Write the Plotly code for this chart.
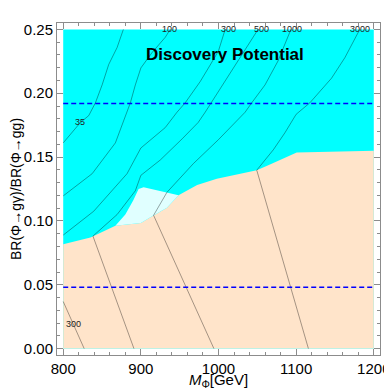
import plotly.graph_objects as go

# ---------------- data ----------------
mass_min, mass_max = 800, 1200
ratio_min, ratio_max = 0.0, 0.25

# upper boundary of the peach (excluded) region
peach_edge_m = [800, 835.1, 867.2, 900, 914.4, 933.6, 948.5, 972.5, 997.9, 1022.7,
                1049.3, 1066.3, 1083.4, 1100.7, 1200]
peach_edge_r = [0.0817, 0.0871, 0.0962, 0.0983, 0.1036, 0.1103, 0.1202, 0.1282, 0.1330, 0.1362,
                0.1397, 0.1442, 0.1490, 0.1536, 0.1550]

# light-cyan patch (upper edge, right to left)
patch_top_m = [948.5, 933.6, 918.6, 903.6, 897.1, 890.3, 880.0, 867.2]
patch_top_r = [0.1202, 0.1224, 0.1242, 0.1264, 0.1250, 0.1162, 0.1050, 0.0962]

# contour lines (luminosity levels)
c35_m = [800, 822.2, 832.9, 841.5, 850.1, 858.6, 869.4, 877.5]
c35_r = [0.1611, 0.1771, 0.1825, 0.1925, 0.2065, 0.2225, 0.2358, 0.25]

c100_m = [800, 837.3, 867.2, 877.5, 884.3, 886.5, 892.9, 900, 914.4, 931.4, 937.9]
c100_r = [0.1196, 0.1370, 0.1611, 0.1771, 0.1877, 0.1925, 0.2065, 0.2198, 0.2318, 0.2438, 0.25]

c300_m = [800, 839.3, 882.2, 900, 931.4, 946.5, 957.1, 976.4, 989.2, 1000, 1008.6,
          None, 800, 827.0]
c300_r = [0.0889, 0.1076, 0.1370, 0.1571, 0.1731, 0.1851, 0.1925, 0.2091, 0.2220, 0.2332, 0.25,
          None, 0.0369, 0.0]

c500_m = [891.1, 838.3, 869.4, 892.9, 900, 925.0, 953.2, 973.8, 982.8, 990.5, 1000, 1025.2, 1051.0]
c500_r = [0.0, 0.0881, 0.1050, 0.1236, 0.1357, 0.1477, 0.1643, 0.1771, 0.1851, 0.1925, 0.2011, 0.2252, 0.25]

c1000_m = [994.1, 916.4, 933.6, 967.8, 1000, 1034.2, 1042.8, 1059.9, 1076.6, 1093.3]
c1000_r = [0.0, 0.1044, 0.1224, 0.1450, 0.1637, 0.1851, 0.1925, 0.2065, 0.2252, 0.25]

c3000_m = [1115.8, 1049.3, 1059.9, 1070.6, 1085.6, 1100, 1117.7, 1145.6, 1162.7, 1179.8, 1182.0]
c3000_r = [0.0, 0.1397, 0.1477, 0.1557, 0.1691, 0.1835, 0.1925, 0.2118, 0.2278, 0.2466, 0.25]

# contour labels
label_text = ["35", "100", "300", "500", "1000", "3000", "300"]
label_m = [822.2, 936.6, 1012.5, 1055.7, 1094.2, 1182.0, 813.6]
label_r = [0.1771, 0.2500, 0.2500, 0.2500, 0.2500, 0.2500, 0.0190]

# reference ratio levels (dashed)
ref_levels = [0.048, 0.192]

# ---------------- figure ----------------
CYAN = "#00FFFF"
PEACH = "#FFE4CA"
LIGHTCYAN = "#E0FFFF"
LINE = "rgba(0,0,0,0.45)"
FONT = "Liberation Sans, Arial, sans-serif"

fig = go.Figure()

fig.add_trace(go.Scatter(
    x=[mass_min, mass_max, mass_max, mass_min],
    y=[ratio_min, ratio_min, ratio_max, ratio_max],
    fill="toself", fillcolor=CYAN, mode="lines", line=dict(width=0),
    hoverinfo="skip"))

fig.add_trace(go.Scatter(
    x=peach_edge_m + [mass_max, mass_min],
    y=peach_edge_r + [ratio_min, ratio_min],
    fill="toself", fillcolor=PEACH, mode="lines", line=dict(width=0),
    hoverinfo="skip"))

lo_m = [m for m in peach_edge_m if 867.2 <= m <= 948.5]
lo_r = [r for m, r in zip(peach_edge_m, peach_edge_r) if 867.2 <= m <= 948.5]
fig.add_trace(go.Scatter(
    x=lo_m + patch_top_m,
    y=lo_r + patch_top_r,
    fill="toself", fillcolor=LIGHTCYAN, mode="lines", line=dict(width=0),
    hoverinfo="skip"))

for xm, yr in [(c35_m, c35_r), (c100_m, c100_r), (c300_m, c300_r),
               (c500_m, c500_r), (c1000_m, c1000_r), (c3000_m, c3000_r)]:
    fig.add_trace(go.Scatter(x=xm, y=yr, mode="lines",
                             line=dict(color=LINE, width=0.8),
                             connectgaps=False, hoverinfo="skip"))

for lev in ref_levels:
    fig.add_trace(go.Scatter(x=[mass_min, mass_max], y=[lev, lev], mode="lines",
                             line=dict(color="#0000FF", width=1.4, dash="5px,3px"),
                             hoverinfo="skip"))

for t, m, r in zip(label_text, label_m, label_r):
    fig.add_annotation(x=m, y=r, text=t, showarrow=False,
                       font=dict(family=FONT, size=9, color="#222"))

fig.add_annotation(x=1007.9, y=0.230, text="<b>Discovery Potential</b>", showarrow=False,
                   font=dict(family=FONT, size=17, color="black"))

axis_common = dict(
    showgrid=False, zeroline=False, showline=True, linecolor="#8c8c8c", linewidth=1,
    mirror="allticks", ticks="inside", ticklen=6, tickcolor="#8c8c8c",
    tickfont=dict(family=FONT, size=15, color="black"), automargin=False,
)

# the page body has an 8px margin, so the figure is made 8px smaller on each axis
fig.update_layout(
    width=384, height=382,
    margin=dict(l=49, r=12, t=15, b=35),
    paper_bgcolor="white", plot_bgcolor="white",
    showlegend=False,
    xaxis=dict(range=[792, 1208], tickvals=[800, 900, 1000, 1100, 1200],
               minor=dict(dtick=20, tick0=800, ticks="inside", ticklen=3, tickcolor="#8c8c8c"),
               title=dict(text="<i>M</i><sub>Φ</sub>[GeV]", standoff=5,
                          font=dict(family=FONT, size=15, color="black")),
               **axis_common),
    yaxis=dict(range=[-0.005, 0.255], tickvals=[0, 0.05, 0.10, 0.15, 0.20, 0.25],
               tickformat=".2f",
               minor=dict(dtick=0.01, tick0=0, ticks="inside", ticklen=3, tickcolor="#8c8c8c"),
               title=dict(text="BR(Φ→gγ)/BR(Φ→gg)", standoff=3,
                          font=dict(family=FONT, size=14, color="black")),
               **axis_common),
)

fig.write_html("out.html")
